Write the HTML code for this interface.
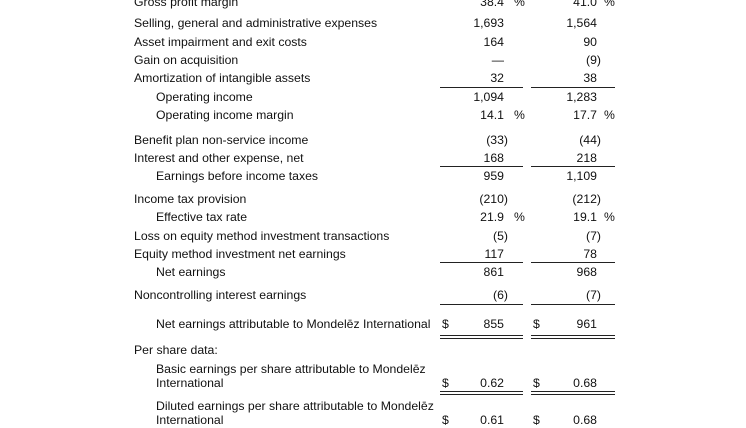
<!DOCTYPE html>
<html><head><meta charset="utf-8"><style>
body{margin:0;width:746px;height:419px;background:#fff;overflow:hidden;position:relative;font-family:"Liberation Sans",Arial,sans-serif;font-size:12.25px;color:#111}
.t{position:absolute;line-height:16px;white-space:nowrap}
.r{position:absolute;line-height:16px;white-space:nowrap;text-align:right;width:80px}
.ln{position:absolute;height:1px;background:#222}
</style></head><body>
<div id="c"></div>
<script>
const rows=[
[2,134,"Gross profit margin",0,"38.4","41.0",1],
[23,134,"Selling, general and administrative expenses",0,"1,693","1,564"],
[42,134,"Asset impairment and exit costs",0,"164","90"],
[60,134,"Gain on acquisition",0,"—","(9)"],
[78,134,"Amortization of intangible assets",0,"32","38"],
[97,156,"Operating income",0,"1,094","1,283"],
[115,156,"Operating income margin",0,"14.1","17.7",1],
[140,134,"Benefit plan non-service income",0,"(33)","(44)"],
[158,134,"Interest and other expense, net",0,"168","218"],
[176,156,"Earnings before income taxes",0,"959","1,109"],
[199,134,"Income tax provision",0,"(210)","(212)"],
[217,156,"Effective tax rate",0,"21.9","19.1",1],
[236,134,"Loss on equity method investment transactions",0,"(5)","(7)"],
[254,134,"Equity method investment net earnings",0,"117","78"],
[272,156,"Net earnings",0,"861","968"],
[295,134,"Noncontrolling interest earnings",0,"(6)","(7)"],
[324,156,"Net earnings attributable to Mondelēz International",1,"855","961"],
[350,134,"Per share data:",0,"",""],
[369,156,"Basic earnings per share attributable to Mondelēz",0,"",""],
[383,156,"International",1,"0.62","0.68"],
[406,156,"Diluted earnings per share attributable to Mondelēz",0,"",""],
[420,156,"International",1,"0.61","0.68"]];
let h="";
for(const r of rows){
 const y=r[0]-8;
 h+=`<div class="t" style="left:${r[1]}px;top:${y}px">${r[2]}</div>`;
 const p1=r[4].startsWith("(")?4:0,p2=r[5].startsWith("(")?4:0;
 if(r[4])h+=`<div class="r" style="left:${504+p1-80}px;top:${y}px">${r[4]}</div>`;
 if(r[5])h+=`<div class="r" style="left:${597+p2-80}px;top:${y}px">${r[5]}</div>`;
 if(r[6]){h+=`<div class="t" style="left:514px;top:${y}px">%</div><div class="t" style="left:604px;top:${y}px">%</div>`;}
 if(r[3]){h+=`<div class="t" style="left:442px;top:${y}px">$</div><div class="t" style="left:533px;top:${y}px">$</div>`;}
}
for(const y of [87,166,262,304]){h+=`<div class="ln" style="left:440px;width:83px;top:${y}px"></div><div class="ln" style="left:531px;width:84px;top:${y}px"></div>`;}
for(const y of [335,391]){for(const d of [0,3]){h+=`<div class="ln" style="left:440px;width:83px;top:${y+d}px"></div><div class="ln" style="left:531px;width:84px;top:${y+d}px"></div>`;}}
document.getElementById("c").innerHTML=h;
</script>
</body></html>
